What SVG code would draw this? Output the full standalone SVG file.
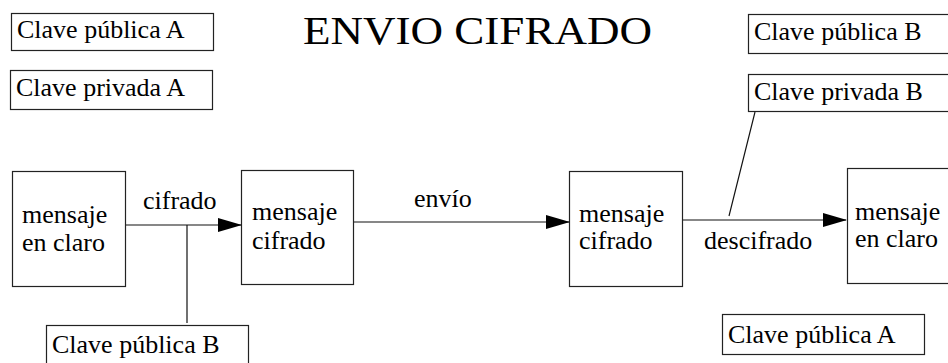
<svg xmlns="http://www.w3.org/2000/svg" width="948" height="363" viewBox="0 0 948 363">
<style>
.box{fill:#fff;stroke:#222;stroke-width:1.2}
text{font-family:"Liberation Serif","Times New Roman",serif;font-size:26px;fill:#000}
text.title{font-size:41px}
.c line{stroke:#111;stroke-width:1.2}
</style>
<defs>
<marker id="ah" markerWidth="24" markerHeight="14" refX="23" refY="7" orient="auto" markerUnits="userSpaceOnUse">
<path d="M0,0 L24,7 L0,14 Z" fill="#000"/>
</marker>
</defs>
<rect width="948" height="363" fill="#fff"/>
<text class="title" x="303" y="44" textLength="349" lengthAdjust="spacingAndGlyphs">ENVIO CIFRADO</text>
<g id="clavePubA1"><rect class="box" x="11.5" y="13.5" width="202" height="37"/><text x="17" y="38">Clave pública A</text></g>
<g id="clavePrivA"><rect class="box" x="10.5" y="70.5" width="202" height="39"/><text x="16" y="96">Clave privada A</text></g>
<g id="clavePubB1"><rect class="box" x="748.5" y="14.5" width="210" height="39"/><text x="754" y="40">Clave pública B</text></g>
<g id="clavePrivB"><rect class="box" x="748.5" y="74.5" width="210" height="37"/><text x="754" y="100">Clave privada B</text></g>
<g id="claro1"><rect class="box" x="12.5" y="171.5" width="113" height="115"/><text x="22" y="223">mensaje</text><text x="22" y="251">en claro</text></g>
<g id="cifrado1"><rect class="box" x="241.5" y="170.5" width="112" height="114"/><text x="252" y="220">mensaje</text><text x="252" y="249">cifrado</text></g>
<g id="cifrado2"><rect class="box" x="569.5" y="171.5" width="113" height="115"/><text x="579" y="222">mensaje</text><text x="579" y="249">cifrado</text></g>
<g id="claro2"><rect class="box" x="847.5" y="168.5" width="120" height="115"/><text x="855" y="220">mensaje</text><text x="855" y="247">en claro</text></g>
<g id="clavePubB2"><rect class="box" x="46.5" y="325.5" width="202" height="50"/><text x="52" y="353">Clave pública B</text></g>
<g id="clavePubA2"><rect class="box" x="722.5" y="314.5" width="202" height="40"/><text x="728" y="343">Clave pública A</text></g>
<g class="c" id="connectors">
<line x1="126" y1="225" x2="241" y2="225" marker-end="url(#ah)"/>
<line x1="187" y1="225" x2="187" y2="323"/>
<line x1="354" y1="222" x2="569" y2="222" marker-end="url(#ah)"/>
<line x1="683" y1="220" x2="846" y2="220" marker-end="url(#ah)"/>
<line x1="755" y1="112" x2="729" y2="216"/>
<text x="143" y="209">cifrado</text>
<text x="414" y="207">envío</text>
<text x="704" y="249">descifrado</text>
</g>
</svg>
